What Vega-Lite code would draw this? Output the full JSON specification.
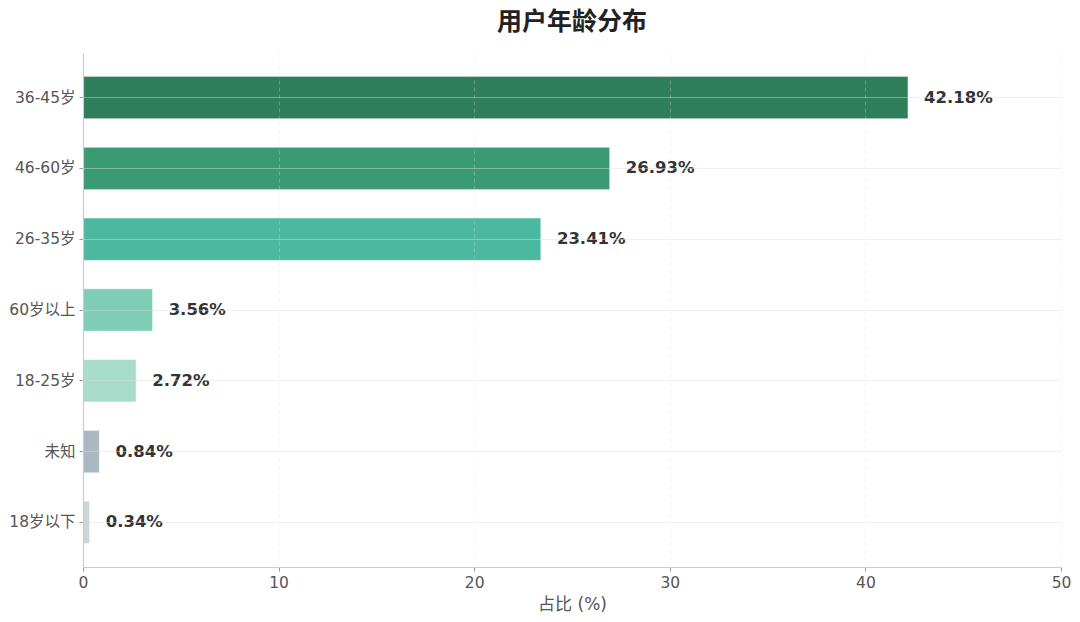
{
  "$schema": "https://vega.github.io/schema/vega-lite/v6.json",
  "autosize": {"type": "none"},
  "padding": {"left": 83, "top": 53, "right": 19, "bottom": 55},
  "width": 978,
  "height": 514,
  "background": "#ffffff",
  "config": {
    "font": "DejaVu Sans, Noto Sans CJK SC",
    "view": {"stroke": null},
    "axis": {"labelFont": "DejaVu Sans, Noto Sans CJK SC", "titleFont": "DejaVu Sans, Noto Sans CJK SC"}
  },
  "title": {
    "text": "用户年龄分布",
    "fontSize": 25,
    "fontWeight": "bold",
    "color": "#222222",
    "anchor": "middle",
    "offset": 18
  },
  "data": {
    "values": [
      {"group": "36-45岁", "pct": 42.18},
      {"group": "46-60岁", "pct": 26.93},
      {"group": "26-35岁", "pct": 23.41},
      {"group": "60岁以上", "pct": 3.56},
      {"group": "18-25岁", "pct": 2.72},
      {"group": "未知", "pct": 0.84},
      {"group": "18岁以下", "pct": 0.34}
    ]
  },
  "encoding": {
    "y": {
      "field": "group",
      "type": "nominal",
      "sort": ["36-45岁", "46-60岁", "26-35岁", "60岁以上", "18-25岁", "未知", "18岁以下"],
      "scale": {"paddingInner": 0.4, "paddingOuter": 0.33},
      "axis": {
        "title": null,
        "labelFontSize": 15.5,
        "labelColor": "#555555",
        "labelPadding": 4,
        "tickSize": 4,
        "tickColor": "#999999",
        "domainColor": "#cccccc",
        "domainWidth": 1.2,
        "grid": true,
        "gridColor": "#dddddd",
        "gridOpacity": 0.45,
        "gridWidth": 1.2,
        "zindex": 1
      }
    }
  },
  "layer": [
    {
      "mark": {"type": "bar", "stroke": "#ffffff", "strokeWidth": 1, "strokeOpacity": 0.6},
      "encoding": {
        "x": {
          "field": "pct",
          "type": "quantitative",
          "scale": {"domain": [0, 50], "nice": false},
          "axis": {
            "title": "占比 (%)",
            "titleFontSize": 17,
            "titleFontWeight": "normal",
            "titleColor": "#555555",
            "titlePadding": 6,
            "values": [0, 10, 20, 30, 40, 50],
            "labelFontSize": 15.5,
            "labelColor": "#555555",
            "labelPadding": 4,
            "labelFlush": false,
            "tickSize": 4,
            "tickColor": "#999999",
            "domainColor": "#cccccc",
            "domainWidth": 1.2,
            "grid": true,
            "gridColor": "#e0e0e0",
            "gridOpacity": 0.3,
            "gridDash": [4, 3],
            "zindex": 1
          }
        },
        "color": {
          "field": "group",
          "type": "nominal",
          "scale": {
            "domain": ["36-45岁", "46-60岁", "26-35岁", "60岁以上", "18-25岁", "未知", "18岁以下"],
            "range": ["#2e7d5b", "#3a9a74", "#4db8a0", "#7fcdb5", "#a8dccb", "#aab8c2", "#ccd5d8"]
          },
          "legend": null
        }
      }
    },
    {
      "mark": {
        "type": "text",
        "align": "left",
        "baseline": "middle",
        "dx": 16,
        "fontSize": 16.5,
        "fontWeight": "bold",
        "color": "#333333",
        "text": {"expr": "format(datum.pct, '.2f') + '%'"}
      },
      "encoding": {
        "x": {"field": "pct", "type": "quantitative"}
      }
    }
  ]
}
